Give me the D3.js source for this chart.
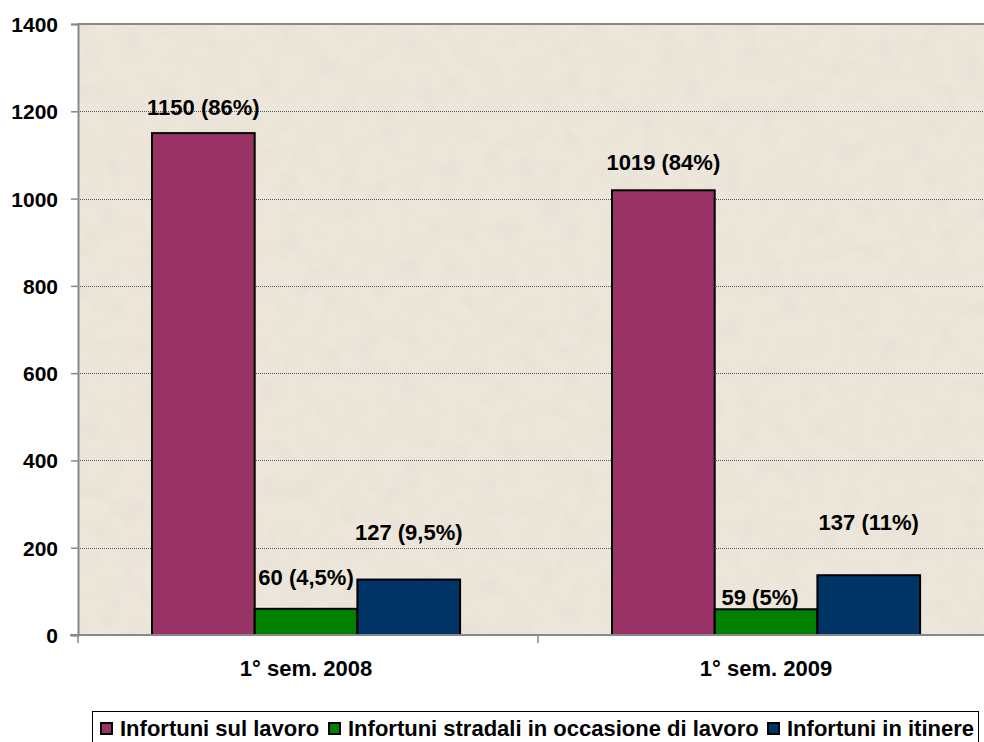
<!DOCTYPE html>
<html>
<head>
<meta charset="utf-8">
<script src="https://cdn.jsdelivr.net/npm/d3@7"></script>
<style>
  html, body { margin: 0; padding: 0; background: #ffffff; }
  svg { display: block; font-family: "Liberation Sans", Arial, sans-serif; }
</style>
</head>
<body>
<svg id="chart" width="984" height="742"></svg>
<script>
// Categories and series
const periods = ["1° sem. 2008", "1° sem. 2009"];
const seriesNames = [
  "Infortuni sul lavoro",
  "Infortuni stradali in occasione di lavoro",
  "Infortuni in itinere"
];
const lavoro   = [1150, 1019];
const stradali = [60, 59];
const itinere  = [127, 137];
const lavoroPct   = ["86%", "84%"];
const stradaliPct = ["4,5%", "5%"];
const itinerePct  = ["9,5%", "11%"];
const yTicks = [0, 200, 400, 600, 800, 1000, 1200, 1400];

// Styling / layout
const colors = ["#993366", "#008000", "#003366"];
const plot = { left: 78, top: 24, bottom: 635, right: 998 };
// label lift above each bar top (px), per series per period, and horizontal nudges
const labelLift = [[18, 20], [24, 4], [40, 45]];
const labelNudge = [[0, 0], [0, -6], [0, 0]];
const fontSize = 22;
const tickFontSize = 21;

const svg = d3.select("#chart");

const x0 = d3.scaleBand().domain(periods).range([plot.left, plot.right]).paddingInner(0).paddingOuter(0);
const x1 = d3.scaleBand().domain(d3.range(3)).range([74, 74 + 3 * 102.7]).padding(0);
const y = d3.scaleLinear().domain([0, 1400]).range([plot.bottom, plot.top]);

// softly mottled beige plot area
const defs = svg.append("defs");
const f = defs.append("filter").attr("id", "grain").attr("x", 0).attr("y", 0).attr("width", 1).attr("height", 1);
f.append("feTurbulence").attr("type", "fractalNoise").attr("baseFrequency", 0.05).attr("numOctaves", 2).attr("seed", 3).attr("result", "n");
f.append("feColorMatrix").attr("in", "n").attr("type", "matrix")
  .attr("values", "0 0 0 0 0.62  0 0 0 0 0.6  0 0 0 0 0.55  0 0 0 1.6 -0.6")
  .attr("result", "c");
f.append("feComposite").attr("in", "c").attr("in2", "SourceGraphic").attr("operator", "in");

svg.append("rect")
  .attr("x", plot.left).attr("y", plot.top)
  .attr("width", 984 - plot.left).attr("height", plot.bottom - plot.top)
  .attr("fill", "#ede7db");
svg.append("rect")
  .attr("x", plot.left).attr("y", plot.top)
  .attr("width", 984 - plot.left).attr("height", plot.bottom - plot.top)
  .attr("fill", "#ede7db").attr("opacity", 0.22)
  .attr("filter", "url(#grain)");

// gridlines
svg.append("g").selectAll("line")
  .data(yTicks.filter(t => t > 0 && t < 1400))
  .join("line")
  .attr("x1", plot.left).attr("x2", 984)
  .attr("y1", d => Math.round(y(d)) + 0.5).attr("y2", d => Math.round(y(d)) + 0.5)
  .attr("stroke", "#555").attr("stroke-width", 1).attr("stroke-dasharray", "1,1");

// top border of plot area
svg.append("line")
  .attr("x1", plot.left).attr("x2", 984)
  .attr("y1", y(1400)).attr("y2", y(1400))
  .attr("stroke", "#888").attr("stroke-width", 2);

// y axis
const yAxis = d3.axisLeft(y).tickValues(yTicks).tickSize(7).tickPadding(13).tickFormat(d3.format("d"));
const gy = svg.append("g").attr("transform", `translate(${plot.left},0)`).call(yAxis);
gy.select(".domain").attr("stroke", "#888").attr("stroke-width", 2);
gy.selectAll(".tick line").attr("stroke", "#888").attr("stroke-width", 1.5);
gy.selectAll(".tick text")
  .attr("font-size", tickFontSize).attr("font-weight", "bold").attr("fill", "#000")
  .attr("font-family", "Liberation Sans, Arial, sans-serif").attr("dy", "0.36em");

// bars
const series = [lavoro, stradali, itinere];
const pcts = [lavoroPct, stradaliPct, itinerePct];
const barData = [];
periods.forEach((p, i) => {
  series.forEach((s, k) => {
    barData.push({ period: p, i, k, value: s[i], pct: pcts[k][i] });
  });
});

svg.append("g").selectAll("rect")
  .data(barData)
  .join("rect")
  .attr("x", d => x0(d.period) + x1(d.k))
  .attr("y", d => y(d.value))
  .attr("width", x1.bandwidth())
  .attr("height", d => y(0) - y(d.value))
  .attr("fill", d => colors[d.k])
  .attr("stroke", "#000").attr("stroke-width", 2);

// x axis baseline and category separators
svg.append("line")
  .attr("x1", plot.left - 8).attr("x2", 984)
  .attr("y1", y(0)).attr("y2", y(0))
  .attr("stroke", "#888").attr("stroke-width", 2);
svg.append("g").selectAll("line")
  .data([plot.left, x0(periods[1])])
  .join("line")
  .attr("x1", d => d).attr("x2", d => d)
  .attr("y1", y(0)).attr("y2", y(0) + 8)
  .attr("stroke", "#888").attr("stroke-width", 1.5);

// category labels
svg.append("g").selectAll("text")
  .data(periods)
  .join("text")
  .attr("x", d => x0(d) + x0.bandwidth() / 2 - 2)
  .attr("y", 676)
  .attr("text-anchor", "middle")
  .attr("font-size", fontSize).attr("font-weight", "bold")
  .text(d => d);

// value labels
svg.append("g").selectAll("text")
  .data(barData)
  .join("text")
  .attr("x", d => x0(d.period) + x1(d.k) + x1.bandwidth() / 2 + labelNudge[d.k][d.i])
  .attr("y", d => y(d.value) - labelLift[d.k][d.i])
  .attr("text-anchor", "middle")
  .attr("font-size", fontSize).attr("font-weight", "bold")
  .text(d => `${d.value} (${d.pct})`);

// legend
const lg = svg.append("g");
lg.append("rect")
  .attr("x", 92.5).attr("y", 711.5).attr("width", 886).attr("height", 60)
  .attr("fill", "#fff").attr("stroke", "#000").attr("stroke-width", 1);
const legendX = [100, 328, 767];
seriesNames.forEach((name, k) => {
  lg.append("rect")
    .attr("x", legendX[k] + 1).attr("y", 723).attr("width", 11).attr("height", 11)
    .attr("fill", colors[k]).attr("stroke", "#000").attr("stroke-width", 2);
  lg.append("text")
    .attr("x", legendX[k] + 20).attr("y", 736)
    .attr("font-size", fontSize).attr("font-weight", "bold")
    .text(name);
});
</script>
</body>
</html>
